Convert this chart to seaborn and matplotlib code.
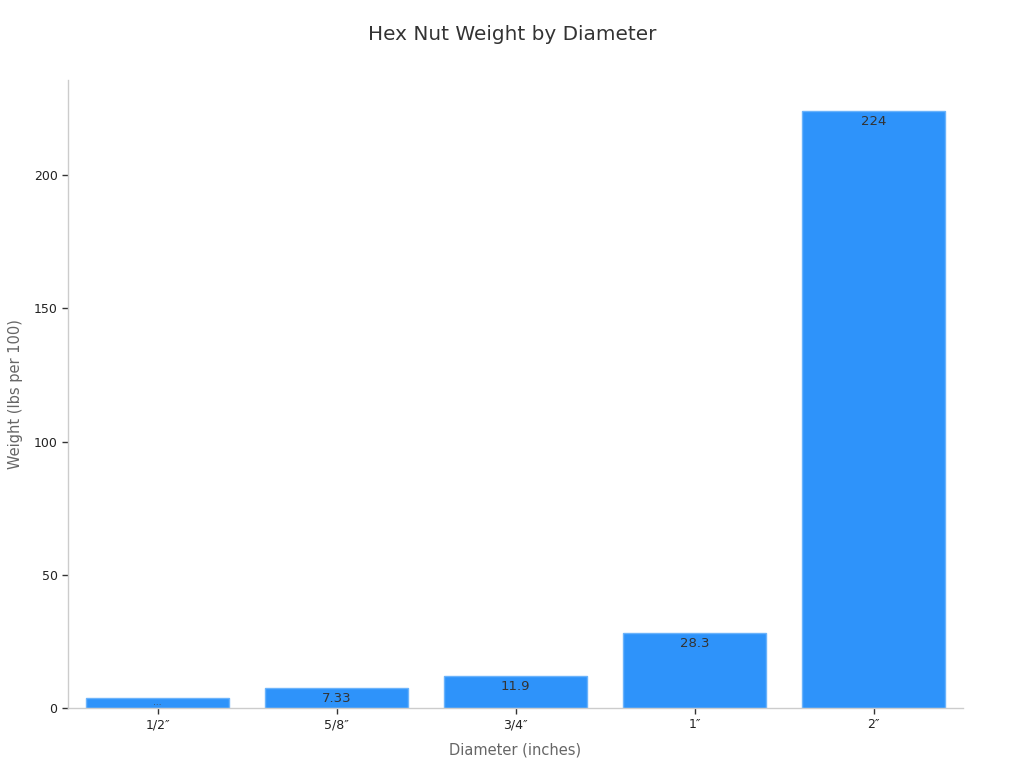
import matplotlib
matplotlib.use("Agg")
import matplotlib.pyplot as plt
import seaborn as sns
import pandas as pd

categories = ["1/2″", "5/8″", "3/4″", "1″", "2″"]
weights = [3.76, 7.33, 11.9, 28.3, 224]
labels = ["…", "7.33", "11.9", "28.3", "224"]

sns.set_theme(style="white")
plt.rcParams['font.family'] = ['DejaVu Sans']

df = pd.DataFrame({"Diameter": categories, "Weight": weights})

fig = plt.figure(figsize=(10.24, 7.68), dpi=100)
ax = fig.add_axes([68/1024, 1 - 708/768, (963-68)/1024, (708-80)/768])

sns.barplot(data=df, x="Diameter", y="Weight", ax=ax, color="#2E93FA",
            saturation=1, width=0.8, edgecolor="#6BB3FB", linewidth=1)

ax.set_xlim(-0.5, 4.5)
ax.set_ylim(0, 235.7)
ax.set_yticks([0, 50, 100, 150, 200])

for i, (v, lab) in enumerate(zip(weights, labels)):
    if i == 0:
        ax.text(i, v * 0.5, lab, ha="center", va="center", fontsize=6, color="#444444")
    else:
        ax.text(i, v - 1.5, lab, ha="center", va="top", fontsize=9.5, color="#333333")

for s in ["top", "right"]:
    ax.spines[s].set_visible(False)
for s in ["left", "bottom"]:
    ax.spines[s].set_color("#cccccc")
    ax.spines[s].set_linewidth(1)

ax.tick_params(axis="both", which="both", length=4, width=1, color="#333333",
               labelsize=9, labelcolor="#222222", bottom=True, left=True)

ax.set_xlabel("Diameter (inches)", fontsize=10.5, color="#666666", labelpad=8)
ax.set_ylabel("Weight (lbs per 100)", fontsize=10.5, color="#666666", labelpad=8)
fig.suptitle("Hex Nut Weight by Diameter", fontsize=14.4, color="#333333", y=1 - 34/768, va="center")

fig.savefig("out.png", dpi=100)
